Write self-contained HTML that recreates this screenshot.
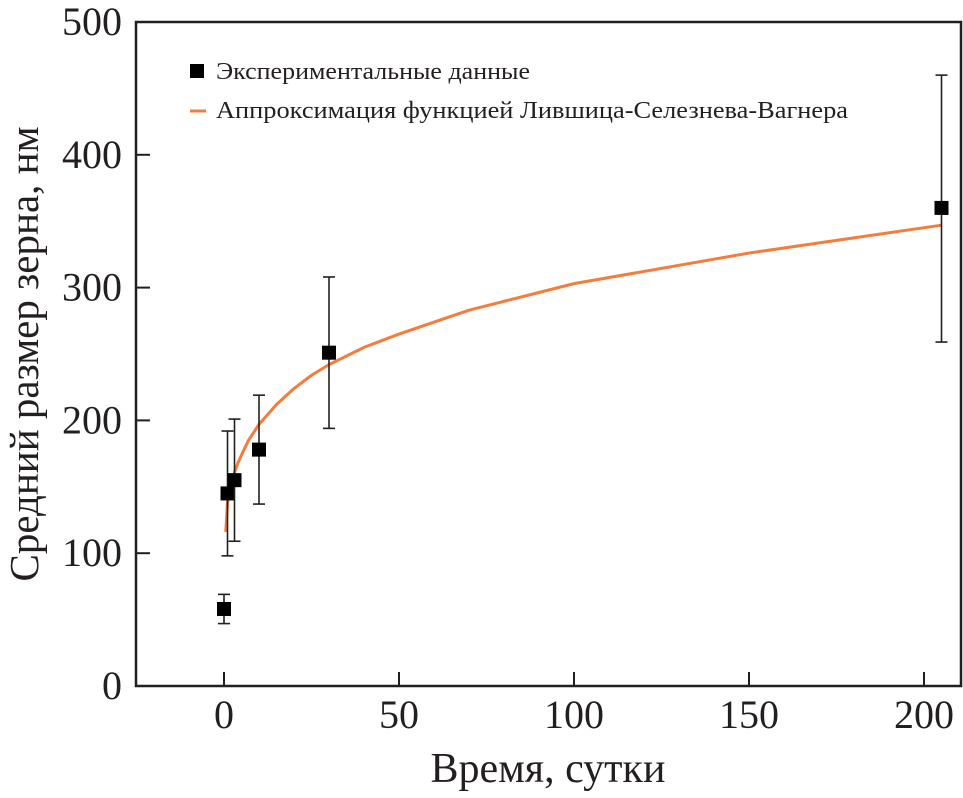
<!DOCTYPE html>
<html><head><meta charset="utf-8"><style>
html,body{margin:0;padding:0;background:#fff;}
svg text{font-family:"Liberation Serif",serif;fill:#231f20;}
</style></head><body>
<svg id="chart" width="963" height="793" viewBox="0 0 963 793" xmlns="http://www.w3.org/2000/svg">
<g id="axes"></g>
<g id="fit"></g>
<g id="points"></g>
<g>
<rect x="190" y="64" width="14" height="14" fill="#000"/>
<text x="216" y="79" font-size="24" textLength="314" lengthAdjust="spacingAndGlyphs">Экспериментальные данные</text>
<line x1="190" y1="111" x2="206" y2="111" stroke="#f47c3c" stroke-width="3"/>
<text x="216" y="118" font-size="24" textLength="632" lengthAdjust="spacingAndGlyphs">Аппроксимация функцией Лившица-Селезнева-Вагнера</text>
</g>
<text x="548" y="782" font-size="42" text-anchor="middle">Время, сутки</text>
<text transform="translate(38,354) rotate(-90)" font-size="41" text-anchor="middle">Средний размер зерна, нм</text>
</svg>
<script>
const days=[0,1,3,10,30,205];
const sizes=[58,145,155,178,251,360];
const errLow=[47,98,109,137,194,259];
const errHigh=[69,192,201,219,308,460];
const fitT=[0.5,1,2,3,4,5,7,10,15,20,25,30,40,50,70,100,150,205];
const fitD=[116,138,152,161,168,174,185,197,212,224,234,242,255,265,283,303,326,347];
const xTicks=[0,50,100,150,200];
const yTicks=[0,100,200,300,400,500];
const L=136,R=961,T=22,B=686;
const X=v=>224+v*3.5;
const Y=v=>B-v*(B-T)/500;
const NS="http://www.w3.org/2000/svg";
function mk(p,tag,a){const e=document.createElementNS(NS,tag);for(const k in a)e.setAttribute(k,a[k]);p.appendChild(e);return e;}
const ax=document.getElementById('axes');
const box=mk(ax,'rect',{x:L,y:T,width:R-L,height:B-T,fill:'none',stroke:'#231f20','stroke-width':2.5});


xTicks.forEach(v=>{
 const t=mk(ax,'line',{x1:X(v),x2:X(v),y1:B,y2:B-14,stroke:'#231f20','stroke-width':2});
 
 
 const l=mk(ax,'text',{x:X(v),y:B+42,'font-size':40,'text-anchor':'middle'});l.textContent=v;
 
 
});
yTicks.forEach(v=>{
 const t=mk(ax,'line',{x1:L,x2:L+14,y1:Y(v),y2:Y(v),stroke:'#231f20','stroke-width':2});
 
 
 const l=mk(ax,'text',{x:L-14,y:Y(v)+13,'font-size':40,'text-anchor':'end'});l.textContent=v;
 
 
});
const fg=document.getElementById('fit');
const path=mk(fg,'path',{d:fitT.map((t,i)=>(i?'L':'M')+X(t)+','+Y(fitD[i])).join(' '),fill:'none',stroke:'#f47c3c','stroke-width':3,'stroke-linejoin':'round'});


const pg=document.getElementById('points');
days.forEach((d,i)=>{
 const g=mk(pg,'g',{});
 
 
 const x=X(d);
 mk(g,'line',{x1:x,x2:x,y1:Y(errLow[i]),y2:Y(errHigh[i]),stroke:'#231f20','stroke-width':1.6});
 mk(g,'line',{x1:x-6,x2:x+6,y1:Y(errLow[i]),y2:Y(errLow[i]),stroke:'#231f20','stroke-width':1.6});
 mk(g,'line',{x1:x-6,x2:x+6,y1:Y(errHigh[i]),y2:Y(errHigh[i]),stroke:'#231f20','stroke-width':1.6});
 mk(g,'rect',{x:x-7,y:Y(sizes[i])-7,width:14,height:14,fill:'#000'});
});
</script>
</body></html>
